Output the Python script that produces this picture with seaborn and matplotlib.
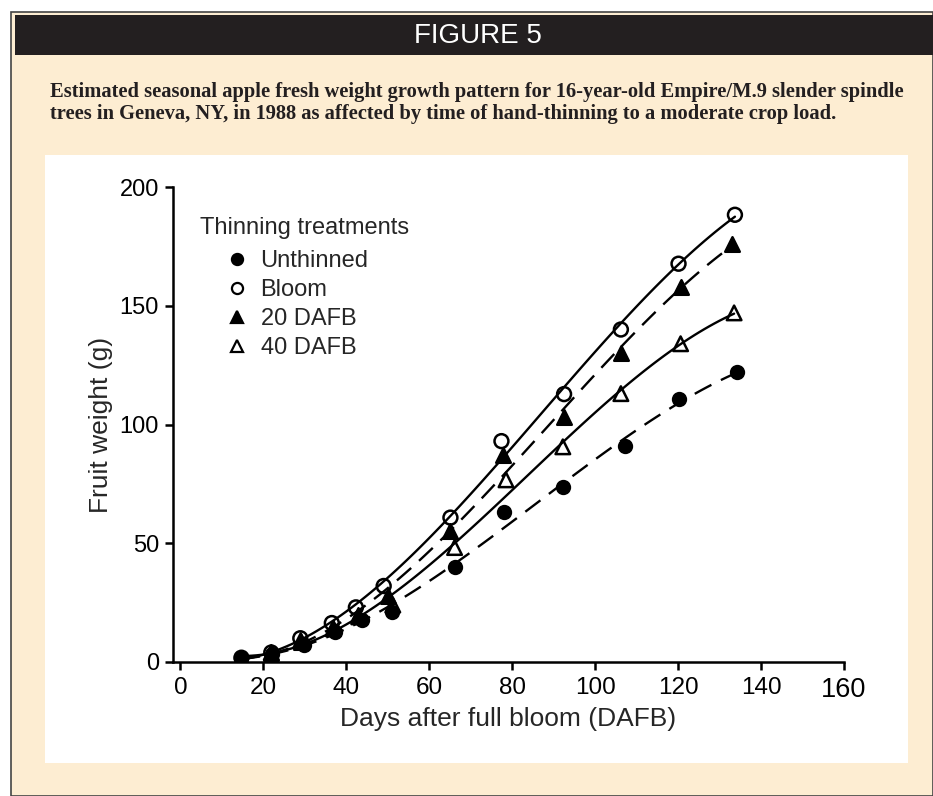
import matplotlib
matplotlib.use("Agg")
import matplotlib.pyplot as plt
from matplotlib.lines import Line2D
from matplotlib.patches import Rectangle
import pandas as pd
import seaborn as sns

# fruit weight (g), per thinning treatment
x_unthinned = [14.5, 22.1, 29.8, 37.3, 43.7, 51.0, 66.3, 78.1, 92.2, 107.3, 120.3, 134.2]
y_unthinned = [1.7, 3.4, 7.1, 12.6, 17.6, 21.0, 39.8, 63.3, 73.8, 91.0, 110.7, 122.0]

x_bloom = [14.7, 21.9, 28.9, 36.5, 42.3, 49.0, 65.1, 77.4, 92.5, 106.2, 120.1, 133.7]
y_bloom = [1.8, 4.0, 10.0, 16.4, 23.0, 32.0, 60.8, 93.0, 112.8, 140.0, 167.7, 188.3]

x_20dafb = [14.7, 21.9, 29.0, 36.8, 42.8, 50.0, 65.1, 77.8, 92.5, 106.2, 120.6, 133.1]
y_20dafb = [1.5, 4.0, 8.5, 14.5, 20.0, 28.0, 55.3, 87.0, 103.0, 130.0, 158.0, 176.0]

x_40dafb = [14.7, 21.9, 29.0, 36.8, 43.0, 51.2, 66.1, 78.5, 92.2, 106.2, 120.6, 133.5]
y_40dafb = [1.5, 4.0, 9.0, 14.0, 19.0, 24.0, 48.2, 76.7, 90.6, 113.0, 134.0, 147.0]

treatments = ["Unthinned", "Bloom", "20 DAFB", "40 DAFB"]
x_ticks = [0, 20, 40, 60, 80, 100, 120, 140, 160]
y_ticks = [0, 50, 100, 150, 200]

df = pd.concat([
    pd.DataFrame({"dafb": x_unthinned, "weight": y_unthinned, "treatment": "Unthinned"}),
    pd.DataFrame({"dafb": x_bloom, "weight": y_bloom, "treatment": "Bloom"}),
    pd.DataFrame({"dafb": x_20dafb, "weight": y_20dafb, "treatment": "20 DAFB"}),
    pd.DataFrame({"dafb": x_40dafb, "weight": y_40dafb, "treatment": "40 DAFB"}),
], ignore_index=True)

# marker / line style per treatment
markers = {"Unthinned": "o", "Bloom": "o", "20 DAFB": "^", "40 DAFB": "^"}
filled = {"Unthinned": True, "Bloom": False, "20 DAFB": True, "40 DAFB": False}
dashed = {"Unthinned": True, "Bloom": False, "20 DAFB": True, "40 DAFB": False}
sizes = {"Unthinned": 85, "Bloom": 100, "20 DAFB": 110, "40 DAFB": 110}

W, H = 933, 796
CREAM = "#FDEDD2"
INK = "#231F20"


def fx(px):
    return px / W


def fy(py):
    return 1 - py / H


sns.set_theme(style="white")
plt.rcParams["font.family"] = ["Liberation Sans", "DejaVu Sans"]

fig = plt.figure(figsize=(W / 100, H / 100), dpi=100, facecolor="white")

# page decoration: cream panel, black header bar, white plot panel (behind the axes)
fig.patches.append(Rectangle((fx(11), 0), 1 - fx(11), fy(12), transform=fig.transFigure,
                             facecolor=CREAM, edgecolor="#444444", lw=1.2, zorder=-3))
fig.patches.append(Rectangle((fx(15), fy(55)), 1 - fx(15), fy(15) - fy(55), transform=fig.transFigure,
                             facecolor=INK, edgecolor="none", zorder=-2))
fig.patches.append(Rectangle((fx(45), fy(763)), fx(908) - fx(45), fy(155) - fy(763),
                             transform=fig.transFigure, facecolor="white", edgecolor="none", zorder=-2))

fig.text(fx(478), fy(36), "FIGURE 5", color="white", fontsize=20, ha="center", va="center",
         family=["Liberation Sans Narrow", "Liberation Sans"])
fig.text(fx(50), fy(97), "Estimated seasonal apple fresh weight growth pattern for 16-year-old "
         "Empire/M.9 slender spindle", fontsize=14.8, fontweight="bold", color=INK,
         family=["Liberation Serif", "DejaVu Serif"], ha="left", va="baseline")
fig.text(fx(50), fy(119), "trees in Geneva, NY, in 1988 as affected by time of hand-thinning "
         "to a moderate crop load.", fontsize=14.8, fontweight="bold", color=INK,
         family=["Liberation Serif", "DejaVu Serif"], ha="left", va="baseline")

ax = fig.add_axes([fx(173), fy(662), fx(844) - fx(173), fy(187) - fy(662)])
ax.set_facecolor("none")

for name in treatments:
    sub = df[df["treatment"] == name]
    line_kws = dict(color="black", lw=1.7)
    if dashed[name]:
        line_kws["dashes"] = (8, 4.5)
    sns.regplot(data=sub, x="dafb", y="weight", order=3, ci=None, scatter=False,
                truncate=True, ax=ax, line_kws=line_kws)
    sns.scatterplot(data=sub, x="dafb", y="weight", marker=markers[name], s=sizes[name],
                    facecolor="black" if filled[name] else "none", edgecolor="black",
                    linewidth=1.8, ax=ax, zorder=3, legend=False)

ax.set_xlim(-1.8, 160)
ax.set_ylim(0, 200)
ax.set_xticks(x_ticks)
ax.set_yticks(y_ticks)
ax.set_xticklabels([str(t) for t in x_ticks], fontsize=17.5)
ax.get_xticklabels()[-1].set_fontsize(19.5)
ax.set_yticklabels([str(t) for t in y_ticks], fontsize=17)
ax.set_xlabel("Days after full bloom (DAFB)", fontsize=19, labelpad=3)
ax.set_ylabel("Fruit weight (g)", fontsize=19, labelpad=5)
for side in ["top", "right"]:
    ax.spines[side].set_visible(False)
for side in ["left", "bottom"]:
    ax.spines[side].set_color("black")
    ax.spines[side].set_linewidth(1.8)
ax.tick_params(axis="both", direction="out", length=6, width=1.8, color="black",
               labelcolor="black", left=True, bottom=True)
ax.tick_params(axis="x", pad=5)
ax.tick_params(axis="y", pad=4)

# legend
fig.text(fx(200), fy(228), "Thinning treatments", fontsize=17, ha="left", va="center")
handles = []
for name in treatments:
    handles.append(Line2D([], [], ls="none", marker=markers[name], markersize=8,
                          markerfacecolor="black" if filled[name] else "none",
                          markeredgecolor="black", markeredgewidth=1.6))
ax.legend(handles, treatments, loc="upper left", bbox_to_anchor=(fx(211), fy(238)),
          bbox_transform=fig.transFigure, frameon=False, fontsize=17, handlelength=1.2,
          handletextpad=0.4, labelspacing=0.3, borderpad=0)

fig.savefig("out.png", dpi=100, facecolor="white")
